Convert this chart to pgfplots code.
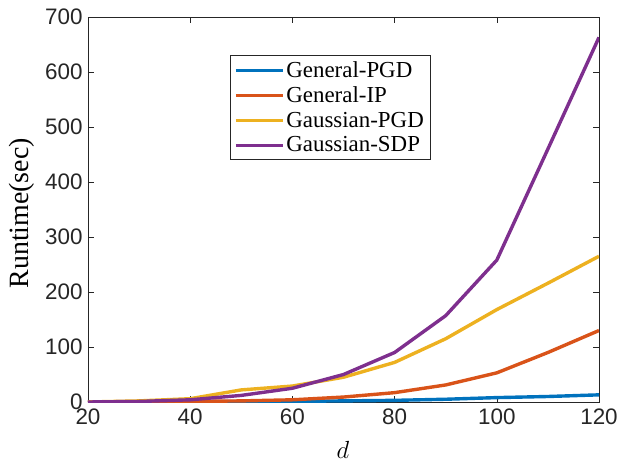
\documentclass[border=0pt]{standalone}
\usepackage{pgfplots}
\pgfplotsset{compat=1.18}
\usepackage{fontspec}
\setmainfont{Liberation Serif}
\newfontfamily\ticksans{Liberation Sans}

\definecolor{mblue}{rgb}{0,0.447,0.741}
\definecolor{morange}{rgb}{0.85,0.325,0.098}
\definecolor{myellow}{rgb}{0.929,0.694,0.125}
\definecolor{mpurple}{rgb}{0.494,0.184,0.556}
\definecolor{axgray}{rgb}{0.15,0.15,0.15}

\begin{document}
\begin{tikzpicture}[x=1bp,y=1bp]
\useasboundingbox (-88bp,-61bp) rectangle (531bp,402bp);
\begin{axis}[
    at={(0,0)}, anchor=south west,
    scale only axis,
    width=511bp, height=385bp,
    xmin=20, xmax=120, ymin=0, ymax=700,
    xtick={20,40,...,120},
    ytick={0,100,...,700},
    tick align=inside,
    major tick length=6bp,
    axis line style={axgray, line width=0.6bp},
    tick style={axgray, line width=0.6bp},
    /pgf/number format/assume math mode=true,
    tick label style={font=\ticksans\fontsize{22.5}{24}\selectfont, text=axgray},
    xticklabel style={yshift=-3bp},
    yticklabel style={xshift=-2bp},
    xlabel={$d$},
    ylabel={Runtime(sec)},
    xlabel style={font=\fontsize{26}{28}\selectfont, at={(axis description cs:0.499,-0.124)}, anchor=center},
    ylabel style={font=\fontsize{28}{30}\selectfont, at={(axis description cs:-0.129,0.49)}, anchor=center},
    legend style={at={(0.278,0.901)}, anchor=north west,
        font=\fontsize{23}{25}\selectfont, draw=axgray, line width=0.6bp,
        inner xsep=4bp, inner ysep=4bp, row sep=4bp,
        cells={anchor=west}},
    legend image code/.code={\draw[#1, line width=3bp] (0bp,0bp) -- (47bp,0bp);},
    every axis plot/.append style={line width=3.4bp},
]
\addplot[mblue] coordinates {(20,0) (30,0.2) (40,0.5) (50,0.8) (60,1.2) (70,2) (80,3) (90,5) (100,8) (110,10) (120,13)};
\addplot[morange] coordinates {(20,0) (30,0.5) (40,1) (50,2) (60,4) (70,9) (80,17) (90,31) (100,53) (110,90) (120,130)};
\addplot[myellow] coordinates {(20,0) (30,2) (40,6) (50,22) (60,29) (70,45) (80,72) (90,115) (100,168) (110,216) (120,265)};
\addplot[mpurple] coordinates {(20,0) (30,1) (40,4) (50,12) (60,25) (70,50) (80,90) (90,157) (100,258) (110,460) (120,663)};
\legend{General-PGD, General-IP, Gaussian-PGD, Gaussian-SDP}
\end{axis}
\end{tikzpicture}
\end{document}
